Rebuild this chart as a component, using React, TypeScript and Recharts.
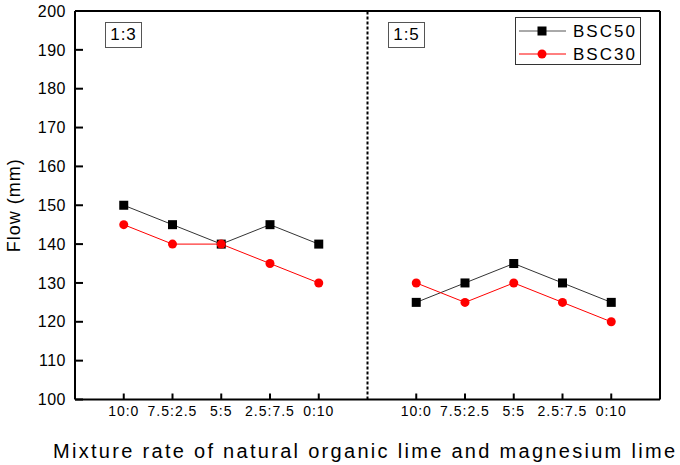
import { LineChart, Line, XAxis, YAxis, ReferenceLine, Label } from "recharts";

// Two mixing groups (1:3, 1:5), five lime ratios each
const groups = ["1:3", "1:5"];
const ratioLabels = ["10:0", "7.5:2.5", "5:5", "2.5:7.5", "0:10"];
const bsc50 = [150, 145, 140, 145, 140, 125, 130, 135, 130, 125];
const bsc30 = [145, 140, 140, 135, 130, 130, 125, 130, 125, 120];
const yTicks = [100, 110, 120, 130, 140, 150, 160, 170, 180, 190, 200];

const font = "'Liberation Sans', Arial, sans-serif";

// x positions: group 0 -> 1..5, gap at 6, group 1 -> 7..11
const rows: { x: number; bsc50: number | null; bsc30: number | null }[] = [];
groups.forEach((_, g) => {
  ratioLabels.forEach((_, i) => {
    const k = g * ratioLabels.length + i;
    rows.push({ x: g * 6 + i + 1, bsc50: bsc50[k], bsc30: bsc30[k] });
  });
  if (g === 0) rows.push({ x: 6, bsc50: null, bsc30: null });
});
const xTicks = rows.filter((r) => r.x !== 6).map((r) => r.x);
const tickLabel = (v: number) => ratioLabels[(v - 1) % 6];

// inward tick lengths, in axis units (about 8px across, 6px up)
const yTickLen = 8 / 48.75;
const xTickLen = 6 / 3.885;

const Square = (props: any) => {
  const { cx, cy } = props;
  if (cx == null || cy == null || props.value == null) return null;
  return <rect x={cx - 4.5} y={cy - 4.5} width={9} height={9} fill="#000" />;
};

const Dot = (props: any) => {
  const { cx, cy } = props;
  if (cx == null || cy == null || props.value == null) return null;
  return <circle cx={cx} cy={cy} r={4.5} fill="#ff0000" />;
};

const groupBox = (left: number, text: string) => (
  <div
    style={{
      position: "absolute",
      left,
      top: 22,
      width: 35,
      height: 24,
      border: "1px solid #555",
      font: `17px ${font}`,
      letterSpacing: 1,
      textAlign: "center",
      lineHeight: "24px",
      color: "#000",
      background: "#fff",
    }}
  >
    {text}
  </div>
);

export default function App() {
  return (
    <div style={{ position: "absolute", left: 0, top: 0, width: 680, height: 465, background: "#fff" }}>
      <LineChart width={680} height={465} data={rows} margin={{ top: 11, right: 20, bottom: 0, left: 0 }}>
        <XAxis
          dataKey="x"
          type="number"
          domain={[0, 12]}
          ticks={xTicks}
          tickFormatter={tickLabel}
          height={65.5}
          stroke="#000"
          strokeWidth={2}
          tickLine={false}
          tickSize={0}
          tickMargin={7}
          tick={{ fill: "#000", fontSize: 14, fontFamily: font, letterSpacing: 1 }}
          interval={0}
        >
          <Label
            content={(p: any) => {
              const vb = p.viewBox;
              return (
                <text
                  x={53}
                  y={vb.y + 58}
                  textLength={622}
                  lengthAdjust="spacing"
                  fontSize={20}
                  fontFamily={font}
                  fill="#000"
                >
                  Mixture rate of natural organic lime and magnesium lime
                </text>
              );
            }}
          />
        </XAxis>
        <YAxis
          type="number"
          domain={[100, 200]}
          ticks={yTicks}
          width={75}
          stroke="#000"
          strokeWidth={2}
          tickLine={false}
          tickSize={0}
          tickMargin={9}
          tick={{ fill: "#000", fontSize: 16, fontFamily: font, letterSpacing: 0.5 }}
          interval={0}
        >
          <Label
            content={(p: any) => {
              const vb = p.viewBox;
              const cy = vb.y + vb.height / 2;
              return (
                <text
                  x={20}
                  y={cy}
                  transform={`rotate(-90 20 ${cy})`}
                  textAnchor="middle"
                  fontSize={18}
                  fontFamily={font}
                  letterSpacing={1}
                  fill="#000"
                >
                  Flow (mm)
                </text>
              );
            }}
          />
        </YAxis>
        {/* inward tick marks on both axes */}
        {yTicks.map((v) => (
          <ReferenceLine
            key={`yt-${v}`}
            ifOverflow="visible"
            segment={[
              { x: 0, y: v },
              { x: yTickLen, y: v },
            ]}
            stroke="#000"
            strokeWidth={2}
          />
        ))}
        {xTicks.map((v) => (
          <ReferenceLine
            key={`xt-${v}`}
            ifOverflow="visible"
            segment={[
              { x: v, y: 100 },
              { x: v, y: 100 + xTickLen },
            ]}
            stroke="#000"
            strokeWidth={2}
          />
        ))}
        {/* closing the frame on top and right */}
        <ReferenceLine y={200} stroke="#000" strokeWidth={2} />
        <ReferenceLine x={12} stroke="#000" strokeWidth={2} />
        <ReferenceLine x={6} stroke="#000" strokeWidth={2} strokeDasharray="3 2" />
        <Line
          dataKey="bsc50"
          type="linear"
          stroke="#333"
          strokeWidth={1}
          dot={<Square />}
          activeDot={false}
          connectNulls={false}
          isAnimationActive={false}
        />
        <Line
          dataKey="bsc30"
          type="linear"
          stroke="#ff0000"
          strokeWidth={1}
          dot={<Dot />}
          activeDot={false}
          connectNulls={false}
          isAnimationActive={false}
        />
      </LineChart>
      {groupBox(105, groups[0])}
      {groupBox(388, groups[1])}
      <div
        style={{
          position: "absolute",
          left: 515,
          top: 17,
          width: 124,
          height: 46,
          border: "1px solid #333",
          background: "#fff",
        }}
      >
        <svg width={124} height={46} style={{ position: "absolute", left: 0, top: 0 }}>
          <line x1={3} x2={50} y1={13} y2={13} stroke="#555" strokeWidth={1} />
          <rect x={21.5} y={8.5} width={9} height={9} fill="#000" />
          <text x={57} y={19} fontSize={17} fontFamily={font} letterSpacing={2} fill="#000">
            BSC50
          </text>
          <line x1={3} x2={50} y1={36} y2={36} stroke="#ff0000" strokeWidth={1} />
          <circle cx={26} cy={36} r={4.5} fill="#ff0000" />
          <text x={57} y={42} fontSize={17} fontFamily={font} letterSpacing={2} fill="#000">
            BSC30
          </text>
        </svg>
      </div>
    </div>
  );
}
